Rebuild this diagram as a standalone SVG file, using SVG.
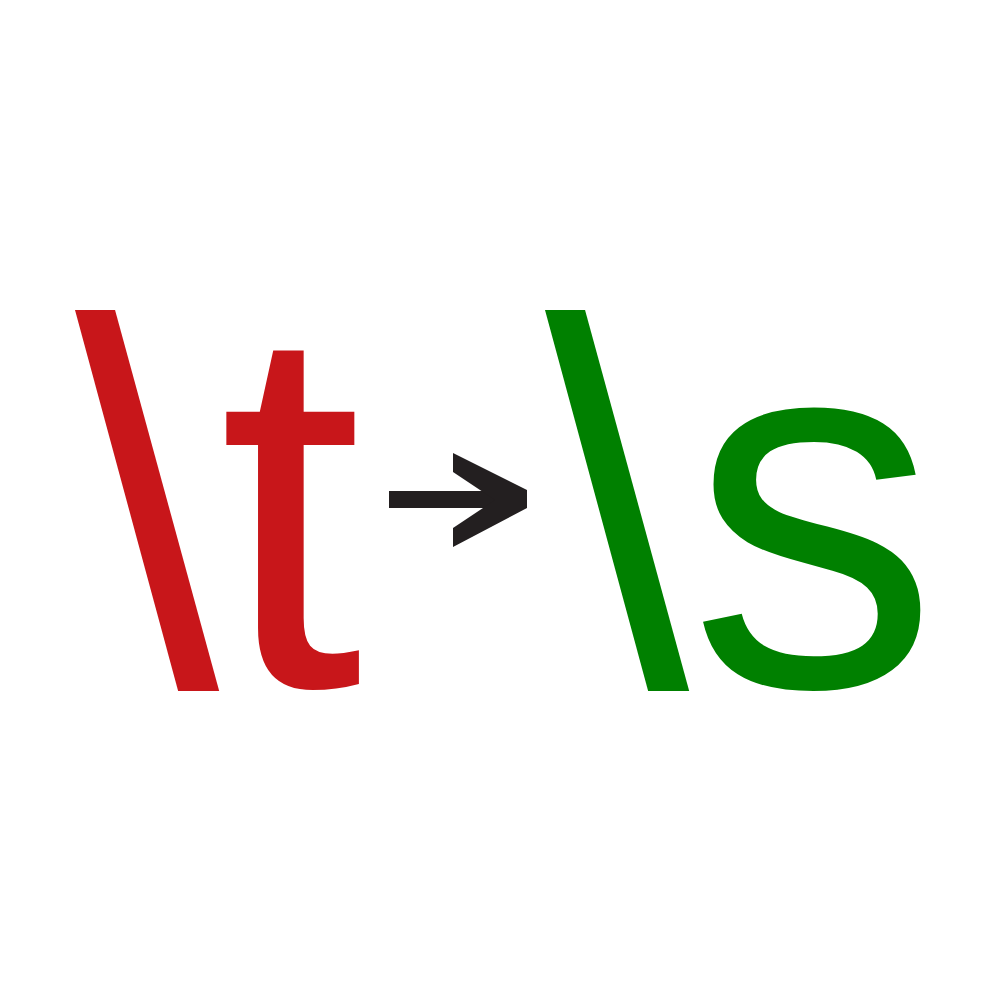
<svg xmlns="http://www.w3.org/2000/svg" width="1000" height="1000" viewBox="0 0 1000 1000">
<style>
.t{font-family:"Liberation Sans",Arial,sans-serif;font-size:519px}
.red{fill:#c8161a}
.green{fill:#008000}
.arrow{fill:#231f20}
</style>
<rect width="1000" height="1000" fill="#ffffff"/>
<g id="from"><text class="t red" x="75" y="686">\</text><text class="t red" x="218.5" y="686">t</text></g>
<g id="connectors">
<rect class="arrow" x="389" y="491" width="110" height="17"/>
<polygon class="arrow" points="453,453 527,490 527,508 453,547 453,528 495,500 453,472"/>
</g>
<g id="to"><text class="t green" x="545" y="686">\</text><text class="t green" transform="translate(703,686) scale(0.96,1)" x="-14.4" y="0">s</text></g>
</svg>
